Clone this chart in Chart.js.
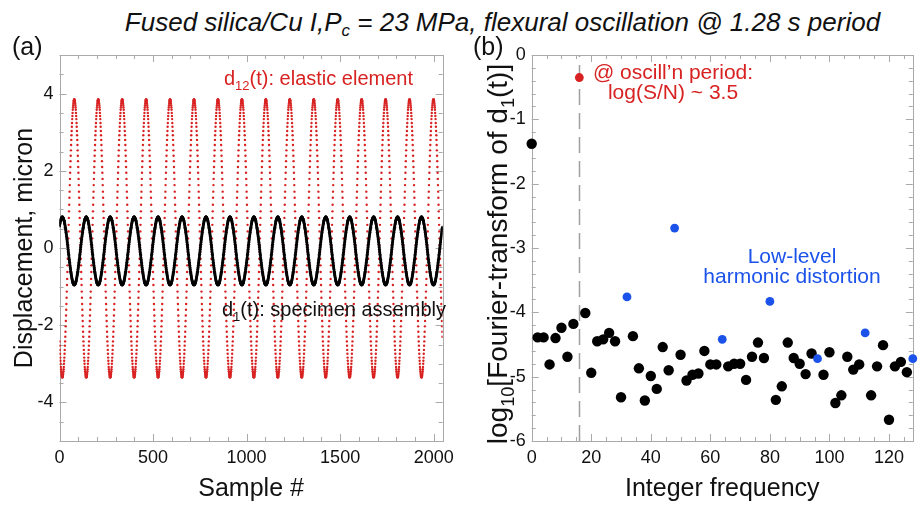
<!DOCTYPE html>
<html>
<head>
<meta charset="utf-8">
<script src="https://cdn.jsdelivr.net/npm/chart.js@4.4.1/dist/chart.umd.min.js"></script>
<style>
  html, body { margin: 0; padding: 0; background: #fff; }
  #wrap { position: relative; width: 918px; height: 505px; overflow: hidden; font-family: 'Liberation Sans', Arial, sans-serif; }
  #title { position: absolute; left: 0; top: 7px; width: 1005px; text-align: center; white-space: nowrap;
           font-style: italic; font-size: 26px; line-height: 30px; color: #111; }
  #title sub { font-size: 0.65em; vertical-align: -0.3em; line-height: 0; }
  canvas { position: absolute; top: 0; }
  #ca { left: 0; }
  #cb { left: 460px; }
</style>
</head>
<body>
<div id="wrap">
  <div id="title">Fused silica/Cu I,P<sub>c</sub> = 23 MPa, flexural oscillation @ 1.28 s period</div>
  <canvas id="ca" width="460" height="505"></canvas>
  <canvas id="cb" width="458" height="505"></canvas>
</div>
<script>
// ---- panel (a): displacement records, 2048 samples ----
const sampleCount = 2048;
const cycleStart = 15; // sample # of the first d12 trough (= first d1 crest)

// one oscillation period (128 samples), starting at the d12 trough
const d12Cycle = [
  -3.35, -3.35, -3.33, -3.31, -3.28, -3.24, -3.19, -3.14, -3.08, -3.00, -2.92, -2.84, -2.74, -2.64, -2.53, -2.42,
  -2.30, -2.17, -2.03, -1.89, -1.75, -1.60, -1.45, -1.29, -1.13, -0.96, -0.80, -0.62, -0.45, -0.28, -0.10, 0.07,
  0.25, 0.43, 0.60, 0.78, 0.95, 1.12, 1.30, 1.46, 1.63, 1.79, 1.95, 2.10, 2.25, 2.39, 2.53, 2.67,
  2.80, 2.92, 3.03, 3.14, 3.24, 3.34, 3.42, 3.50, 3.58, 3.64, 3.69, 3.74, 3.78, 3.81, 3.83, 3.85,
  3.85, 3.85, 3.83, 3.81, 3.78, 3.74, 3.69, 3.64, 3.58, 3.50, 3.42, 3.34, 3.24, 3.14, 3.03, 2.92,
  2.80, 2.67, 2.53, 2.39, 2.25, 2.10, 1.95, 1.79, 1.63, 1.46, 1.30, 1.12, 0.95, 0.78, 0.60, 0.43,
  0.25, 0.07, -0.10, -0.28, -0.45, -0.62, -0.80, -0.96, -1.13, -1.29, -1.45, -1.60, -1.75, -1.89, -2.03, -2.17,
  -2.30, -2.42, -2.53, -2.64, -2.74, -2.84, -2.92, -3.00, -3.08, -3.14, -3.19, -3.24, -3.28, -3.31, -3.33, -3.35
];
const d1Cycle = [
  0.80, 0.80, 0.80, 0.79, 0.78, 0.77, 0.76, 0.75, 0.73, 0.72, 0.70, 0.68, 0.65, 0.63, 0.60, 0.57,
  0.54, 0.51, 0.48, 0.45, 0.41, 0.37, 0.34, 0.30, 0.26, 0.22, 0.18, 0.14, 0.10, 0.05, 0.01, -0.03,
  -0.08, -0.12, -0.16, -0.20, -0.25, -0.29, -0.33, -0.37, -0.41, -0.45, -0.49, -0.52, -0.56, -0.60, -0.63, -0.66,
  -0.69, -0.72, -0.75, -0.78, -0.80, -0.83, -0.85, -0.87, -0.88, -0.90, -0.91, -0.92, -0.93, -0.94, -0.95, -0.95,
  -0.95, -0.95, -0.95, -0.94, -0.93, -0.92, -0.91, -0.90, -0.88, -0.87, -0.85, -0.83, -0.80, -0.78, -0.75, -0.72,
  -0.69, -0.66, -0.63, -0.60, -0.56, -0.52, -0.49, -0.45, -0.41, -0.37, -0.33, -0.29, -0.25, -0.20, -0.16, -0.12,
  -0.08, -0.03, 0.01, 0.05, 0.10, 0.14, 0.18, 0.22, 0.26, 0.30, 0.34, 0.37, 0.41, 0.45, 0.48, 0.51,
  0.54, 0.57, 0.60, 0.63, 0.65, 0.68, 0.70, 0.72, 0.73, 0.75, 0.76, 0.77, 0.78, 0.79, 0.80, 0.80
];
const sampleTicks = [0, 500, 1000, 1500, 2000];
const dispTicks = [-4, -2, 0, 2, 4];

// ---- panel (b): spectrum of d1 ----
const noiseFreq = [0, 2, 4, 6, 8, 10, 12, 14, 18, 20, 22, 24, 26, 28, 30, 34, 36, 38, 40, 42, 44, 46,
  50, 52, 54, 56, 58, 60, 62, 66, 68, 70, 72, 74, 76, 78, 82, 84, 86, 88, 90, 92, 94,
  98, 100, 102, 104, 106, 108, 110, 114, 116, 118, 120, 122, 124, 126];
const noiseLog = [-1.38, -4.39, -4.39, -4.81, -4.40, -4.24, -4.69, -4.18, -4.01, -4.94, -4.45, -4.42, -4.32, -4.45, -5.32, -4.37, -4.87, -5.37, -4.99, -5.19, -4.54, -4.90,
  -4.66, -5.06, -4.97, -4.95, -4.60, -4.81, -4.81, -4.84, -4.80, -4.80, -5.05, -4.69, -4.47, -4.71, -5.36, -5.15, -4.47, -4.71, -4.80, -4.96, -4.64,
  -4.97, -4.62, -5.41, -5.29, -4.69, -4.89, -4.81, -5.29, -4.84, -4.51, -5.67, -4.84, -4.77, -4.93];
const periodFreq = [16];
const periodLog = [-0.35];
const harmFreq = [32, 48, 64, 80, 96, 112, 128];
const harmLog = [-3.76, -2.69, -4.42, -3.83, -4.72, -4.32, -4.72];
const freqTicks = [0, 20, 40, 60, 80, 100, 120];
const logTicks = [-6, -5, -4, -3, -2, -1, 0];

const RED = '#d82222';
const BLUE = '#1b52ea';
const FONT = "'Liberation Sans', Arial, Helvetica, sans-serif";

Chart.defaults.font.family = FONT;
Chart.defaults.color = '#111';

// build the point lists
const d12Pts = [], d1Pts = [];
for (let n = 0; n < sampleCount; n++) {
  const k = ((n - cycleStart) % d12Cycle.length + d12Cycle.length) % d12Cycle.length;
  d12Pts.push({ x: n, y: d12Cycle[k] });
  d1Pts.push({ x: n, y: d1Cycle[k] });
}
const toPts = (xs, ys) => xs.map((x, i) => ({ x: x, y: ys[i] }));

// text with subscripts: parts = [[text, isSub], ...]
function drawRich(ctx, parts, x, y, size, color, align, rotate) {
  ctx.save();
  ctx.translate(x, y);
  if (rotate) ctx.rotate(-Math.PI / 2);
  ctx.fillStyle = color;
  ctx.textBaseline = 'alphabetic';
  const subSize = size * 0.65;
  let total = 0;
  parts.forEach(p => {
    ctx.font = (p[1] ? subSize : size) + 'px ' + FONT;
    total += ctx.measureText(p[0]).width;
  });
  let cx = align === 'center' ? -total / 2 : 0;
  const by = rotate ? size * 0.35 : 0;
  parts.forEach(p => {
    ctx.font = (p[1] ? subSize : size) + 'px ' + FONT;
    ctx.fillText(p[0], cx, by + (p[1] ? size * 0.27 : 0));
    cx += ctx.measureText(p[0]).width;
  });
  ctx.restore();
}

// box with inward ticks on all four sides
const framePlugin = {
  id: 'frame',
  beforeDatasetsDraw(chart, args, opts) {
    const { ctx, chartArea: a, scales: { x, y } } = chart;
    ctx.save();
    ctx.strokeStyle = '#a9a9a9';
    ctx.lineWidth = 1;
    if (opts.vline !== undefined) {
      const vx = Math.round(x.getPixelForValue(opts.vline)) + 0.5;
      ctx.save();
      ctx.strokeStyle = '#a0a0a0';
      ctx.lineWidth = 1.5;
      ctx.setLineDash([16, 8]);
      ctx.beginPath();
      ctx.moveTo(vx, a.bottom);
      ctx.lineTo(vx, a.top);
      ctx.stroke();
      ctx.restore();
    }
    ctx.beginPath();
    const nx = Math.round((x.max - x.min) / opts.xMinor);
    for (let i = 0; i <= nx; i++) {
      const v = x.min + i * opts.xMinor;
      const px = Math.round(x.getPixelForValue(v)) + 0.5;
      const len = Math.abs(v / opts.xMajor - Math.round(v / opts.xMajor)) < 1e-6 ? 7 : 4;
      ctx.moveTo(px, a.bottom); ctx.lineTo(px, a.bottom - len);
      ctx.moveTo(px, a.top); ctx.lineTo(px, a.top + len);
    }
    const ny = Math.round((y.max - y.min) / opts.yMinor);
    for (let i = 0; i <= ny; i++) {
      const v = y.min + i * opts.yMinor;
      const py = Math.round(y.getPixelForValue(v)) + 0.5;
      const len = Math.abs(v / opts.yMajor - Math.round(v / opts.yMajor)) < 1e-6 ? 7 : 4;
      ctx.moveTo(a.left, py); ctx.lineTo(a.left + len, py);
      ctx.moveTo(a.right, py); ctx.lineTo(a.right - len, py);
    }
    ctx.stroke();
    ctx.strokeRect(Math.round(a.left) + 0.5, Math.round(a.top) + 0.5,
      Math.round(a.right - a.left), Math.round(a.bottom - a.top));
    ctx.restore();
  },
  afterDraw(chart, args, opts) {
    (opts.texts || []).forEach(t => drawRich(chart.ctx, t.parts, t.x, t.y, t.size, t.color, t.align, t.rotate));
  }
};

function axis(min, max, ticks, size, extra) {
  return Object.assign({
    type: 'linear', min: min, max: max,
    afterBuildTicks: s => { s.ticks = ticks.map(v => ({ value: v })); },
    grid: { display: false, drawTicks: false },
    border: { display: false },
    ticks: { autoSkip: false, maxRotation: 0, font: { size: 18 }, color: '#111', padding: 6,
             callback: v => String(v) },
    afterFit: s => { if (s.isHorizontal()) s.height = size; else s.width = size; }
  }, extra);
}

// panel (a)
new Chart(document.getElementById('ca'), {
  type: 'scatter',
  data: {
    datasets: [
      { label: 'd1', data: d1Pts, pointRadius: 1.5, pointBackgroundColor: '#000', pointBorderWidth: 0 },
      { label: 'd12', data: d12Pts, pointRadius: 1.2, pointBackgroundColor: RED, pointBorderWidth: 0 }
    ]
  },
  options: {
    responsive: false, animation: false, events: [],
    layout: { padding: { top: 55, right: 13, left: 0, bottom: 0 } },
    scales: {
      x: axis(0, 2048, sampleTicks, 64, {
        title: { display: true, text: 'Sample #', font: { size: 25 }, color: '#111', padding: { top: 0, bottom: 1 } }
      }),
      y: axis(-5, 5, dispTicks, 59.5, {
        title: { display: true, text: 'Displacement, micron', font: { size: 25 }, color: '#111', padding: { top: 10, bottom: 0 } }
      })
    },
    plugins: {
      legend: { display: false }, tooltip: { enabled: false },
      frame: {
        xMinor: 100, xMajor: 500, yMinor: 0.5, yMajor: 2,
        texts: [
          { parts: [['(a)']], x: 12, y: 55, size: 25, color: '#111' },
          { parts: [['d'], ['12', true], ['(t): elastic element']], x: 224, y: 85, size: 20, color: RED },
          { parts: [['d'], ['1', true], ['(t): specimen assembly']], x: 222, y: 316, size: 20, color: '#111' }
        ]
      }
    }
  },
  plugins: [framePlugin]
});

// panel (b)
new Chart(document.getElementById('cb'), {
  type: 'scatter',
  data: {
    datasets: [
      { label: 'period', data: toPts(periodFreq, periodLog), pointRadius: 4.4, pointBackgroundColor: RED, pointBorderWidth: 0, clip: false },
      { label: 'harmonics', data: toPts(harmFreq, harmLog), pointRadius: 4.4, pointBackgroundColor: BLUE, pointBorderWidth: 0, clip: false },
      { label: 'noise', data: toPts(noiseFreq, noiseLog), pointRadius: 5.2, pointBackgroundColor: '#000', pointBorderWidth: 0, clip: false }
    ]
  },
  options: {
    responsive: false, animation: false, events: [],
    layout: { padding: { top: 55, right: 1, left: 0, bottom: 0 } },
    scales: {
      x: axis(0, 128, freqTicks, 64, {
        title: { display: true, text: 'Integer frequency', font: { size: 25 }, color: '#111', padding: { top: 0, bottom: 1 } }
      }),
      y: axis(-6, 0, logTicks, 71.7, {})
    },
    plugins: {
      legend: { display: false }, tooltip: { enabled: false },
      frame: {
        xMinor: 5, xMajor: 20, yMinor: 0.2, yMajor: 1, vline: 16,
        texts: [
          { parts: [['(b)']], x: 13, y: 55, size: 25, color: '#111' },
          { parts: [['log'], ['10', true], ['[Fourier-transform of d'], ['1', true], ['(t)]']], x: 37, y: 254, size: 28, color: '#111', align: 'center', rotate: true },
          { parts: [['@ oscill\u2019n period:']], x: 213, y: 79, size: 21, color: RED, align: 'center' },
          { parts: [['log(S/N) ~ 3.5']], x: 213, y: 99, size: 21, color: RED, align: 'center' },
          { parts: [['Low-level']], x: 332, y: 263, size: 21, color: BLUE, align: 'center' },
          { parts: [['harmonic distortion']], x: 332, y: 283, size: 21, color: BLUE, align: 'center' }
        ]
      }
    }
  },
  plugins: [framePlugin]
});
</script>
</body>
</html>
